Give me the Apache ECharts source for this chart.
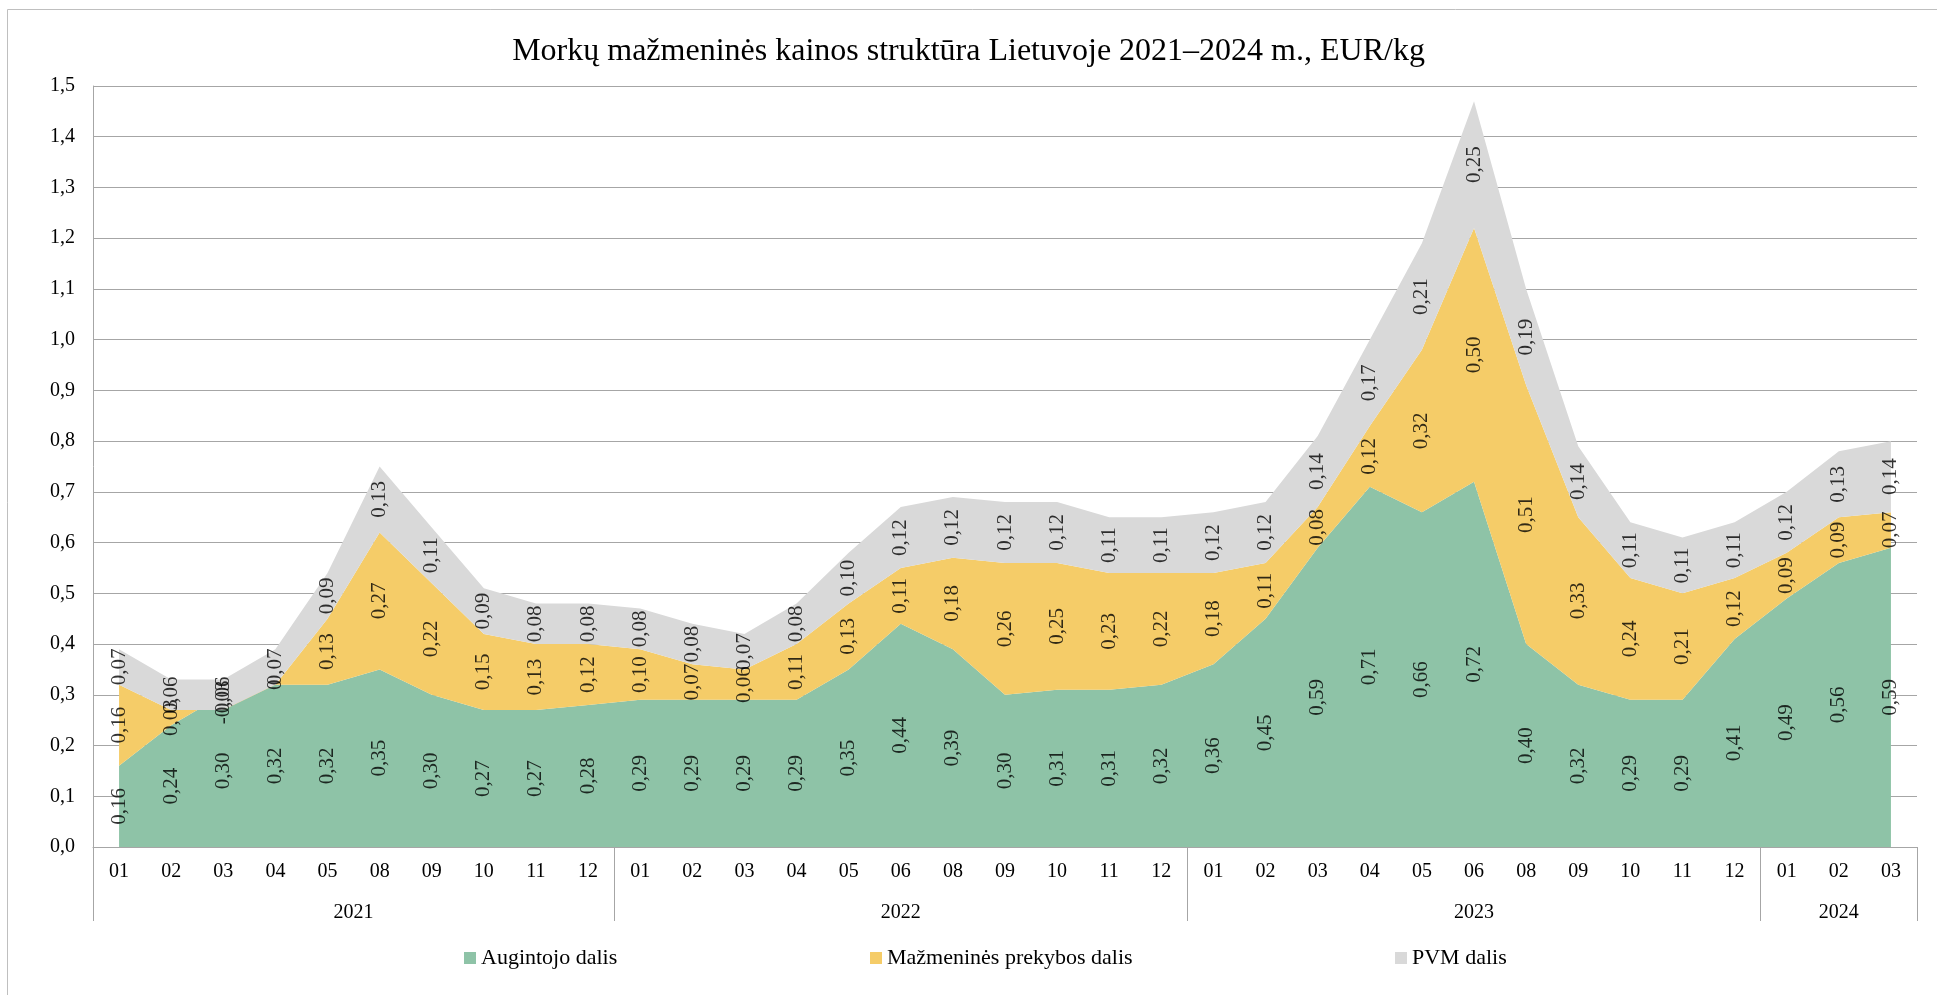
<!DOCTYPE html>
<html>
<head>
<meta charset="utf-8">
<script src="https://cdn.jsdelivr.net/npm/echarts@6/dist/echarts.min.js"></script>
<style>
  html, body { margin: 0; padding: 0; background: #fff; }
  #main { width: 1937px; height: 995px; }
</style>
</head>
<body>
<div id="main"></div>
<script>
// mėnesiai ir metai
var months = ['01','02','03','04','05','08','09','10','11','12',
              '01','02','03','04','05','06','08','09','10','11','12',
              '01','02','03','04','05','06','08','09','10','11','12',
              '01','02','03'];
var years = ['2021', '2022', '2023', '2024'];
var yearCounts = [10, 11, 11, 3];

var augintojo = [0.16,0.24,0.30,0.32,0.32,0.35,0.30,0.27,0.27,0.28,
                 0.29,0.29,0.29,0.29,0.35,0.44,0.39,0.30,0.31,0.31,0.32,
                 0.36,0.45,0.59,0.71,0.66,0.72,0.40,0.32,0.29,0.29,0.41,
                 0.49,0.56,0.59];
var prekybos = [0.16,0.03,-0.03,0,0.13,0.27,0.22,0.15,0.13,0.12,
                0.10,0.07,0.06,0.11,0.13,0.11,0.18,0.26,0.25,0.23,0.22,
                0.18,0.11,0.08,0.12,0.32,0.50,0.51,0.33,0.24,0.21,0.12,
                0.09,0.09,0.07];
var pvm = [0.07,0.06,0.06,0.07,0.09,0.13,0.11,0.09,0.08,0.08,
           0.08,0.08,0.07,0.08,0.10,0.12,0.12,0.12,0.12,0.11,0.11,
           0.12,0.12,0.14,0.17,0.21,0.25,0.19,0.14,0.11,0.11,0.11,
           0.12,0.13,0.14];

var names = ['Augintojo dalis', 'Mažmeninės prekybos dalis', 'PVM dalis'];
var colors = ['#8EC3A7', '#F5CC68', '#D9D9D9'];
var font = 'Liberation Serif';

var myChart = echarts.init(document.getElementById('main'));

// metų ribos ir vidurio taškai
var yearStarts = [];
var yearMids = {};
var acc = 0;
for (var i = 0; i < years.length; i++) {
    yearStarts.push(acc);
    yearMids[(acc + yearCounts[i] / 2).toFixed(1)] = years[i];
    acc += yearCounts[i];
}

function fmt(v) {
    if (v === 0) return '0';
    return v.toFixed(2).replace('.', ',');
}

// etikečių taškai – juostos vidurys
var layers = [augintojo, prekybos, pvm];
var labelData = [[], [], []];
for (var i = 0; i < months.length; i++) {
    var base = 0;
    for (var k = 0; k < layers.length; k++) {
        labelData[k].push([i, base + layers[k][i] / 2]);
        base += layers[k][i];
    }
}

var series = [];
for (var k = 0; k < layers.length; k++) {
    series.push({
        name: names[k],
        type: 'line',
        stack: 'total',
        stackStrategy: 'all',
        symbol: 'none',
        z: 2,
        lineStyle: { width: 0 },
        itemStyle: { color: colors[k] },
        areaStyle: { color: colors[k], opacity: 1 },
        data: layers[k]
    });
}
for (var k = 0; k < layers.length; k++) {
    (function (k) {
        series.push({
            name: 'lbl' + k,
            type: 'scatter',
            silent: true,
            z: 10,
            symbolSize: 1,
            itemStyle: { color: 'rgba(0,0,0,0)' },
            label: {
                show: true,
                position: 'inside',
                rotate: 90,
                color: '#000',
                fontFamily: font,
                fontSize: 21,
                formatter: function (p) { return fmt(layers[k][p.dataIndex]); }
            },
            labelLayout: { hideOverlap: false },
            data: labelData[k]
        });
    })(k);
}

var legendLeft = [459, 865, 1390];
var legends = [];
for (var k = 0; k < names.length; k++) {
    legends.push({
        data: [names[k]],
        left: legendLeft[k],
        top: 942,
        icon: 'rect',
        itemWidth: 12,
        itemHeight: 12,
        itemGap: 5,
        textStyle: { fontFamily: font, fontSize: 22, color: '#000' }
    });
}

var option = {
    animation: false,
    title: {
        text: 'Morkų mažmeninės kainos struktūra Lietuvoje 2021–2024 m., EUR/kg',
        left: 'center',
        top: 31,
        textStyle: { fontFamily: font, fontSize: 32, fontWeight: 'normal', color: '#000' }
    },
    graphic: [{
        type: 'rect',
        shape: { x: 7.5, y: 9.5, width: 2000, height: 1100 },
        style: { fill: 'none', stroke: '#BFBFBF', lineWidth: 1 },
        silent: true
    }],
    legend: legends,
    grid: { left: 93, right: 20, top: 86, bottom: 148 },
    xAxis: [
        {
            type: 'category',
            data: months,
            position: 'bottom',
            axisLine: { onZero: false, lineStyle: { color: '#A6A6A6', width: 1 } },
            axisTick: { show: false },
            axisLabel: { interval: 0, margin: 15, color: '#000', fontFamily: font, fontSize: 20 }
        },
        {
            type: 'category',
            data: months,
            position: 'bottom',
            axisLine: { show: false, onZero: false },
            axisLabel: { show: false },
            axisTick: {
                show: true,
                length: 74,
                interval: function (index) { return yearStarts.indexOf(index) >= 0; },
                lineStyle: { color: '#A6A6A6', width: 1 }
            }
        },
        {
            type: 'value',
            position: 'bottom',
            min: 0,
            max: months.length,
            interval: 0.5,
            axisLine: { show: false, onZero: false },
            axisTick: { show: false },
            splitLine: { show: false },
            axisLabel: {
                margin: 56,
                color: '#000',
                fontFamily: font,
                fontSize: 20,
                formatter: function (v) { return yearMids[v.toFixed(1)] || ''; }
            }
        }
    ],
    yAxis: {
        type: 'value',
        min: 0,
        max: 1.5,
        interval: 0.1,
        axisLine: { show: true, onZero: false, lineStyle: { color: '#A6A6A6', width: 1 } },
        axisTick: { show: false },
        splitLine: { lineStyle: { color: '#A6A6A6', width: 1 } },
        axisLabel: {
            margin: 18,
            color: '#000',
            fontFamily: font,
            fontSize: 20,
            formatter: function (v) { return v.toFixed(1).replace('.', ','); }
        }
    },
    series: series
};

myChart.setOption(option);

window.onresize = function () {
    myChart.resize();
};
</script>
</body>
</html>
